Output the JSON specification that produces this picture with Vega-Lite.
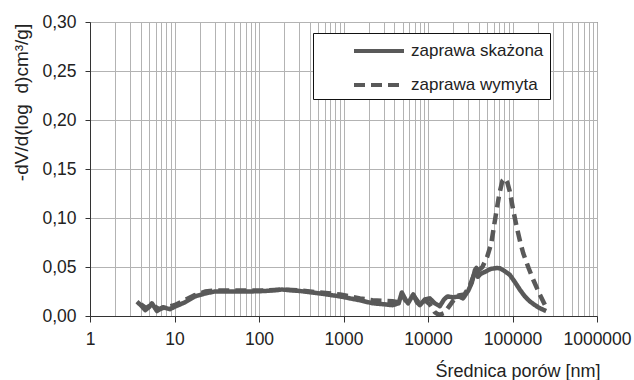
{
  "$schema": "https://vega.github.io/schema/vega-lite/v6.json",
  "autosize": {"type": "none"},
  "padding": {"left": 90, "top": 22, "right": 37, "bottom": 64},
  "width": 507,
  "height": 294,
  "background": "white",
  "config": {
    "view": {"stroke": "#444", "strokeWidth": 1},
    "font": "Liberation Sans",
    "axis": {"labelFont": "Liberation Sans", "titleFont": "Liberation Sans", "labelColor": "#222", "titleColor": "#222", "domainColor": "#333", "tickColor": "#333", "gridColor": "#b3b3b3", "gridWidth": 1, "titleFontWeight": "normal"}
  },
  "data": {
    "values": [
      {"d": 3.6, "v": 0.0146, "s": "zaprawa skażona"},
      {"d": 4.0, "v": 0.011, "s": "zaprawa skażona"},
      {"d": 4.5, "v": 0.006, "s": "zaprawa skażona"},
      {"d": 5.0, "v": 0.009, "s": "zaprawa skażona"},
      {"d": 5.4, "v": 0.013, "s": "zaprawa skażona"},
      {"d": 6.2, "v": 0.005, "s": "zaprawa skażona"},
      {"d": 7.3, "v": 0.009, "s": "zaprawa skażona"},
      {"d": 8.0, "v": 0.008, "s": "zaprawa skażona"},
      {"d": 8.8, "v": 0.007, "s": "zaprawa skażona"},
      {"d": 10.4, "v": 0.010, "s": "zaprawa skażona"},
      {"d": 13.3, "v": 0.014, "s": "zaprawa skażona"},
      {"d": 17.5, "v": 0.020, "s": "zaprawa skażona"},
      {"d": 23, "v": 0.023, "s": "zaprawa skażona"},
      {"d": 30, "v": 0.025, "s": "zaprawa skażona"},
      {"d": 45, "v": 0.025, "s": "zaprawa skażona"},
      {"d": 78, "v": 0.025, "s": "zaprawa skażona"},
      {"d": 118, "v": 0.0255, "s": "zaprawa skażona"},
      {"d": 187, "v": 0.027, "s": "zaprawa skażona"},
      {"d": 305, "v": 0.0255, "s": "zaprawa skażona"},
      {"d": 530, "v": 0.023, "s": "zaprawa skażona"},
      {"d": 910, "v": 0.020, "s": "zaprawa skażona"},
      {"d": 1570, "v": 0.016, "s": "zaprawa skażona"},
      {"d": 2200, "v": 0.013, "s": "zaprawa skażona"},
      {"d": 3000, "v": 0.012, "s": "zaprawa skażona"},
      {"d": 3800, "v": 0.011, "s": "zaprawa skażona"},
      {"d": 4500, "v": 0.013, "s": "zaprawa skażona"},
      {"d": 4900, "v": 0.024, "s": "zaprawa skażona"},
      {"d": 5400, "v": 0.017, "s": "zaprawa skażona"},
      {"d": 5800, "v": 0.013, "s": "zaprawa skażona"},
      {"d": 6700, "v": 0.022, "s": "zaprawa skażona"},
      {"d": 7400, "v": 0.014, "s": "zaprawa skażona"},
      {"d": 8000, "v": 0.011, "s": "zaprawa skażona"},
      {"d": 9200, "v": 0.017, "s": "zaprawa skażona"},
      {"d": 10500, "v": 0.018, "s": "zaprawa skażona"},
      {"d": 12000, "v": 0.013, "s": "zaprawa skażona"},
      {"d": 13800, "v": 0.010, "s": "zaprawa skażona"},
      {"d": 15500, "v": 0.017, "s": "zaprawa skażona"},
      {"d": 17000, "v": 0.020, "s": "zaprawa skażona"},
      {"d": 20000, "v": 0.019, "s": "zaprawa skażona"},
      {"d": 23000, "v": 0.020, "s": "zaprawa skażona"},
      {"d": 26000, "v": 0.018, "s": "zaprawa skażona"},
      {"d": 30000, "v": 0.026, "s": "zaprawa skażona"},
      {"d": 33000, "v": 0.034, "s": "zaprawa skażona"},
      {"d": 36000, "v": 0.047, "s": "zaprawa skażona"},
      {"d": 37500, "v": 0.049, "s": "zaprawa skażona"},
      {"d": 39000, "v": 0.040, "s": "zaprawa skażona"},
      {"d": 42000, "v": 0.043, "s": "zaprawa skażona"},
      {"d": 47000, "v": 0.045, "s": "zaprawa skażona"},
      {"d": 55000, "v": 0.048, "s": "zaprawa skażona"},
      {"d": 65000, "v": 0.049, "s": "zaprawa skażona"},
      {"d": 71000, "v": 0.0487, "s": "zaprawa skażona"},
      {"d": 80000, "v": 0.046, "s": "zaprawa skażona"},
      {"d": 93000, "v": 0.042, "s": "zaprawa skażona"},
      {"d": 108000, "v": 0.034, "s": "zaprawa skażona"},
      {"d": 123000, "v": 0.0265, "s": "zaprawa skażona"},
      {"d": 140000, "v": 0.020, "s": "zaprawa skażona"},
      {"d": 160000, "v": 0.015, "s": "zaprawa skażona"},
      {"d": 185000, "v": 0.011, "s": "zaprawa skażona"},
      {"d": 210000, "v": 0.008, "s": "zaprawa skażona"},
      {"d": 250000, "v": 0.005, "s": "zaprawa skażona"},
      {"d": 4.0, "v": 0.012, "s": "zaprawa wymyta"},
      {"d": 4.6, "v": 0.008, "s": "zaprawa wymyta"},
      {"d": 5.4, "v": 0.012, "s": "zaprawa wymyta"},
      {"d": 6.5, "v": 0.007, "s": "zaprawa wymyta"},
      {"d": 8, "v": 0.009, "s": "zaprawa wymyta"},
      {"d": 10, "v": 0.011, "s": "zaprawa wymyta"},
      {"d": 13, "v": 0.016, "s": "zaprawa wymyta"},
      {"d": 17, "v": 0.021, "s": "zaprawa wymyta"},
      {"d": 23, "v": 0.025, "s": "zaprawa wymyta"},
      {"d": 30, "v": 0.026, "s": "zaprawa wymyta"},
      {"d": 45, "v": 0.026, "s": "zaprawa wymyta"},
      {"d": 78, "v": 0.026, "s": "zaprawa wymyta"},
      {"d": 118, "v": 0.026, "s": "zaprawa wymyta"},
      {"d": 187, "v": 0.027, "s": "zaprawa wymyta"},
      {"d": 305, "v": 0.026, "s": "zaprawa wymyta"},
      {"d": 530, "v": 0.024, "s": "zaprawa wymyta"},
      {"d": 910, "v": 0.022, "s": "zaprawa wymyta"},
      {"d": 1570, "v": 0.018, "s": "zaprawa wymyta"},
      {"d": 2200, "v": 0.016, "s": "zaprawa wymyta"},
      {"d": 3000, "v": 0.0155, "s": "zaprawa wymyta"},
      {"d": 3800, "v": 0.015, "s": "zaprawa wymyta"},
      {"d": 4500, "v": 0.014, "s": "zaprawa wymyta"},
      {"d": 4900, "v": 0.022, "s": "zaprawa wymyta"},
      {"d": 5400, "v": 0.016, "s": "zaprawa wymyta"},
      {"d": 6700, "v": 0.021, "s": "zaprawa wymyta"},
      {"d": 8000, "v": 0.012, "s": "zaprawa wymyta"},
      {"d": 9200, "v": 0.016, "s": "zaprawa wymyta"},
      {"d": 10500, "v": 0.012, "s": "zaprawa wymyta"},
      {"d": 12000, "v": 0.004, "s": "zaprawa wymyta"},
      {"d": 13500, "v": 0.001, "s": "zaprawa wymyta"},
      {"d": 15500, "v": 0.003, "s": "zaprawa wymyta"},
      {"d": 17500, "v": 0.009, "s": "zaprawa wymyta"},
      {"d": 20000, "v": 0.016, "s": "zaprawa wymyta"},
      {"d": 23000, "v": 0.021, "s": "zaprawa wymyta"},
      {"d": 27000, "v": 0.022, "s": "zaprawa wymyta"},
      {"d": 31000, "v": 0.030, "s": "zaprawa wymyta"},
      {"d": 36000, "v": 0.045, "s": "zaprawa wymyta"},
      {"d": 40000, "v": 0.047, "s": "zaprawa wymyta"},
      {"d": 44000, "v": 0.050, "s": "zaprawa wymyta"},
      {"d": 50000, "v": 0.060, "s": "zaprawa wymyta"},
      {"d": 56000, "v": 0.074, "s": "zaprawa wymyta"},
      {"d": 64000, "v": 0.105, "s": "zaprawa wymyta"},
      {"d": 70000, "v": 0.125, "s": "zaprawa wymyta"},
      {"d": 76000, "v": 0.138, "s": "zaprawa wymyta"},
      {"d": 81500, "v": 0.1405, "s": "zaprawa wymyta"},
      {"d": 87000, "v": 0.136, "s": "zaprawa wymyta"},
      {"d": 93000, "v": 0.127, "s": "zaprawa wymyta"},
      {"d": 102000, "v": 0.108, "s": "zaprawa wymyta"},
      {"d": 112000, "v": 0.091, "s": "zaprawa wymyta"},
      {"d": 123000, "v": 0.076, "s": "zaprawa wymyta"},
      {"d": 134000, "v": 0.064, "s": "zaprawa wymyta"},
      {"d": 155000, "v": 0.049, "s": "zaprawa wymyta"},
      {"d": 176000, "v": 0.037, "s": "zaprawa wymyta"},
      {"d": 210000, "v": 0.022, "s": "zaprawa wymyta"},
      {"d": 243000, "v": 0.011, "s": "zaprawa wymyta"},
      {"d": 250000, "v": 0.006, "s": "zaprawa wymyta"}
    ]
  },
  "mark": {"type": "line", "color": "#595959", "strokeWidth": 4.5, "strokeJoin": "round", "strokeCap": "butt", "clip": true},
  "encoding": {
    "x": {
      "field": "d", "type": "quantitative",
      "scale": {"type": "log", "domain": [1, 1000000], "nice": false},
      "axis": {
        "title": "Średnica porów [nm]",
        "titleFontSize": 18, "titleAlign": "left", "titleBaseline": "alphabetic", "titleX": 345, "titleY": 60, "titleAnchor": null,
        "values": [1,2,3,4,5,6,7,8,9,10,20,30,40,50,60,70,80,90,100,200,300,400,500,600,700,800,900,1000,2000,3000,4000,5000,6000,7000,8000,9000,10000,20000,30000,40000,50000,60000,70000,80000,90000,100000,200000,300000,400000,500000,600000,700000,800000,900000,1000000],
        "labelExpr": "abs(log(datum.value)/LN10 - round(log(datum.value)/LN10)) < 0.001 ? format(datum.value, 'd') : ''",
        "tickOpacity": {"condition": {"test": "abs(log(datum.value)/LN10 - round(log(datum.value)/LN10)) < 0.001", "value": 1}, "value": 0},
        "labelOverlap": false, "labelFlush": false, "labelFontSize": 17.5, "labelPadding": 8, "tickSize": 6, "grid": true
      }
    },
    "y": {
      "field": "v", "type": "quantitative",
      "scale": {"domain": [0, 0.3], "nice": false},
      "axis": {
        "title": "-dV/d(log\u00a0 d)cm³/g]",
        "titleFontSize": 19, "titleAngle": -90, "titleAlign": "center", "titleBaseline": "alphabetic", "titleX": -63, "titleY": 80,
        "values": [0, 0.05, 0.1, 0.15, 0.2, 0.25, 0.3],
        "labelExpr": "replace(format(datum.value, '.2f'), '.', ',')",
        "labelFontSize": 17.5, "labelPadding": 9, "tickSize": 5, "grid": true
      }
    },
    "strokeDash": {
      "field": "s", "type": "nominal",
      "scale": {"domain": ["zaprawa skażona", "zaprawa wymyta"], "range": [[1, 0], [11, 6]]},
      "legend": {
        "orient": "none", "legendX": 223, "legendY": 11, "title": null,
        "symbolType": "M-2.5,0H2.5", "symbolSize": 400, "symbolStrokeWidth": 4, "symbolStrokeColor": "#595959",
        "labelFont": "Liberation Sans", "labelFontSize": 17, "labelColor": "#222", "labelOffset": 20, "labelLimit": 400,
        "labelExpr": "datum.label + '\u00a0\u00a0\u00a0\u00a0\u00a0\u00a0\u00a0'",
        "rowPadding": 14, "padding": 6, "symbolOffset": 48,
        "strokeColor": "#111", "fillColor": "white"
      }
    }
  }
}
